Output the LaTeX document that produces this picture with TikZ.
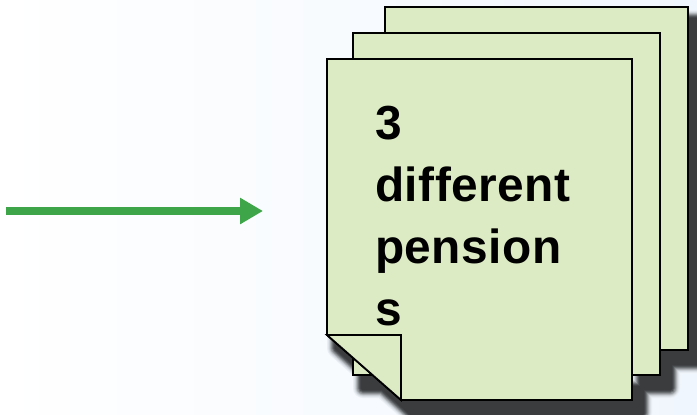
\documentclass[tikz,border=0pt]{standalone}
\usepackage{fontspec}
\usetikzlibrary{arrows.meta}
\newfontfamily\pagefont[LetterSpace=1]{Liberation Sans}
\definecolor{bgright}{RGB}{240,246,253}
\definecolor{sheetgreen}{RGB}{221,235,196}
\definecolor{shadowgray}{RGB}{58,60,62}
\definecolor{arrowgreen}{RGB}{62,166,72}
\tikzset{
  sheet/.style={fill=sheetgreen, draw=black, line width=1.8bp, line join=miter},
  flow/.style={draw=arrowgreen, line width=8bp, -{Triangle[length=23bp,width=25bp]}},
  pagetext/.style={inner sep=0pt, anchor=base west, align=left,
    font=\pagefont\bfseries\fontsize{48}{62}\selectfont},
}
% outlines of the three stacked sheets
\def\backsheet{(385,7) rectangle (688,350)}
\def\midsheet{(353,33) rectangle (660,375)}
\def\frontsheet{(327,59) -- (632,59) -- (632,400) -- (401,400) -- (327,335) -- cycle}
\begin{document}
\begin{tikzpicture}[x=1bp, y=-1bp]
  \useasboundingbox (0,0) rectangle (697,414);
  \shade[left color=white, right color=bgright] (0,0) rectangle (697,414);

  % soft shadow behind the stack: opaque rings blending towards the background
  \begin{scope}[shift={(10,13)}]
    \foreach \d/\p in {10/4,9/10,8/20,7/35,6/52,5/70,4/85,3/95,2/100,0.5/100}{
      \filldraw[line width=2*\d bp, line join=round,
                fill=shadowgray!\p!bgright, draw=shadowgray!\p!bgright]
        \backsheet \midsheet \frontsheet;
    }
  \end{scope}

  % the sheets, back to front
  \draw[sheet] \backsheet;
  \draw[sheet] \midsheet;
  \draw[sheet] \frontsheet;
  % folded corner
  \draw[sheet] (327,335) -- (401,335) -- (401,400) -- cycle;

  % base anchor of a multi-line node sits on its last line
  \node[pagetext] (label) at (375,325) {3\\different\\pension\\s};

  \coordinate (from) at (6,211);
  \coordinate (to) at (263,211);
  \draw[flow] (from) -- (to);
\end{tikzpicture}
\end{document}
